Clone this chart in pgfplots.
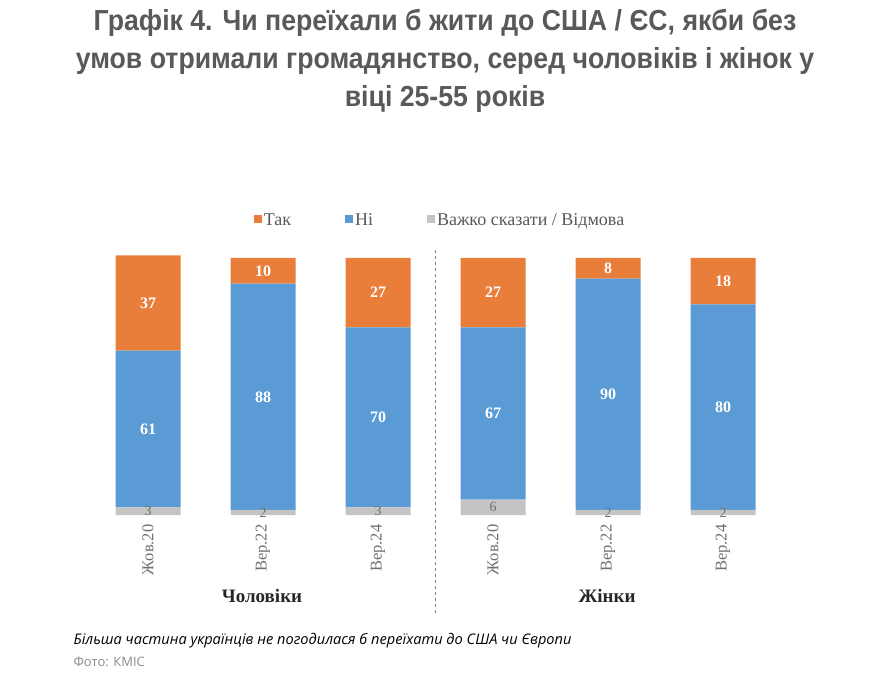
\documentclass[border=0pt]{standalone}
\usepackage{fontspec}
\usepackage{pgfplots}
\usepackage{pgfplotstable}
\pgfplotsset{compat=1.18}
\setmainfont{Liberation Serif}
\newfontfamily\titlefont[FakeStretch=0.92]{Liberation Sans}
\newfontfamily\capfont{Open Sans}
\definecolor{corange}{HTML}{E97D3A}
\definecolor{cblue}{HTML}{5B9BD5}
\definecolor{cgray}{HTML}{C4C4C4}
\definecolor{ctext}{HTML}{595959}
\definecolor{ctick}{HTML}{707070}
\pgfplotstableread{
x dk ni tak
0 3 61 37
1 2 88 10
2 3 70 27
3 6 67 27
4 2 90 8
5 2 80 18
}\data
\begin{document}
\begin{tikzpicture}[x=1pt,y=1pt,
  lbl/.style={font=\bfseries\fontsize{16}{16}\selectfont, text=white},
  glbl/.style={font=\fontsize{14}{14}\selectfont, text=ctick}]
\path (0,0) rectangle (890,675);
\node[font=\titlefont\bfseries\fontsize{29}{38}\selectfont, text=ctext, align=center] at (445,614)
 {Графік 4. Чи переїхали б жити до США / ЄС, якби без\\умов отримали громадянство, серед чоловіків і жінок у\\віці 25-55 років};
\begin{axis}[
  at={(90.5pt,160pt)}, anchor=south west,
  scale only axis, width=690pt, height=257pt,
  xmin=-0.5, xmax=5.5, ymin=0, ymax=100,
  clip=false,
  ybar stacked, bar width=65pt,
  axis line style={draw=none},
  ymajorticks=false,
  xtick={0,...,5},
  xticklabels={Жов.20,Вер.22,Вер.24,Жов.20,Вер.22,Вер.24},
  major tick length=0pt,
  xticklabel style={yshift=-6pt, rotate=90, anchor=east, font=\fontsize{16.5}{16.5}\selectfont, text=ctick},
  legend style={at={(0.5065,1.148)}, anchor=center, draw=none, fill=none,
    legend columns=3, font=\fontsize{18}{18}\selectfont, text=ctext,
    /tikz/every even column/.append style={column sep=52pt}},
  legend image code/.code={\path[#1, draw=none] (0pt,-3.5pt) rectangle (8pt,4.5pt);},
]
\addplot[fill=cgray, draw=none, forget plot] table[x=x,y=dk]{\data};
\addplot[fill=cblue, draw=none, forget plot] table[x=x,y=ni]{\data};
\addplot[fill=corange, draw=none, forget plot] table[x=x,y=tak]{\data};
\addlegendimage{fill=corange}\addlegendentry{Так}
\addlegendimage{fill=cblue}\addlegendentry{Ні}
\addlegendimage{fill=cgray}\addlegendentry{Важко сказати / Відмова}
% label anchors
\coordinate (g0) at (axis cs:0,1.5);
\coordinate (g1) at (axis cs:1,1);
\coordinate (g2) at (axis cs:2,1.5);
\coordinate (g3) at (axis cs:3,3);
\coordinate (g4) at (axis cs:4,1);
\coordinate (g5) at (axis cs:5,1);
\coordinate (b0) at (axis cs:0,33.5);
\coordinate (b1) at (axis cs:1,46);
\coordinate (b2) at (axis cs:2,38);
\coordinate (b3) at (axis cs:3,39.5);
\coordinate (b4) at (axis cs:4,47);
\coordinate (b5) at (axis cs:5,42);
\coordinate (o0) at (axis cs:0,82.5);
\coordinate (o1) at (axis cs:1,95);
\coordinate (o2) at (axis cs:2,86.5);
\coordinate (o3) at (axis cs:3,86.5);
\coordinate (o4) at (axis cs:4,96);
\coordinate (o5) at (axis cs:5,91);
\end{axis}
\node[glbl] at (g0) {3};
\node[glbl] at (g1) {2};
\node[glbl] at (g2) {3};
\node[glbl] at (g3) {6};
\node[glbl] at (g4) {2};
\node[glbl] at (g5) {2};
\node[lbl] at (b0) {61};
\node[lbl] at (b1) {88};
\node[lbl] at (b2) {70};
\node[lbl] at (b3) {67};
\node[lbl] at (b4) {90};
\node[lbl] at (b5) {80};
\node[lbl] at (o0) {37};
\node[lbl] at (o1) {10};
\node[lbl] at (o2) {27};
\node[lbl] at (o3) {27};
\node[lbl] at (o4) {8};
\node[lbl] at (o5) {18};
\draw[gray, dashed, line width=0.8pt] (435,425) -- (435,62);
\node[font=\bfseries\fontsize{19}{19}\selectfont, text=black!85] at (262,79) {Чоловіки};
\node[font=\bfseries\fontsize{19}{19}\selectfont, text=black!85] at (607,79) {Жінки};
\node[anchor=base west, font=\capfont\itshape\fontsize{14.6}{15}\selectfont, text=black] at (70,31) {Більша частина українців не погодилася б переїхати до США чи Європи};
\node[anchor=base west, font=\capfont\fontsize{13}{14}\selectfont, text=black!45] at (70,9) {Фото: КМІС};
\end{tikzpicture}
\end{document}
